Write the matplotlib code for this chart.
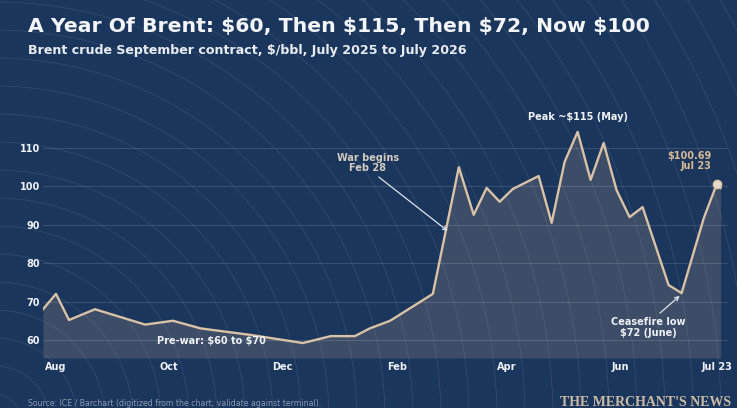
import numpy as np
import pandas as pd
import matplotlib
matplotlib.use('Agg')
import matplotlib.pyplot as plt
import matplotlib.dates as mdates

plt.rcParams['text.parse_math'] = False

# Brent September contract, weekly-ish turning points
dates = ['2025-07-25', '2025-08-01', '2025-08-08', '2025-08-22', '2025-09-18',
         '2025-10-03', '2025-10-18', '2025-11-14', '2025-12-12', '2025-12-27',
         '2026-01-09', '2026-01-17', '2026-01-28', '2026-02-20', '2026-03-06',
         '2026-03-14', '2026-03-21', '2026-03-28', '2026-04-04', '2026-04-18',
         '2026-04-25', '2026-05-02', '2026-05-09', '2026-05-16', '2026-05-23',
         '2026-05-30', '2026-06-06', '2026-06-13', '2026-06-27', '2026-07-04',
         '2026-07-16', '2026-07-23', '2026-07-25']
prices = [68, 72, 65.2, 68, 64,
          65, 63, 61.3, 59.2, 61,
          61, 63, 65, 72, 105,
          92.6, 99.6, 96, 99.3, 102.7,
          90.5, 106.4, 114.2, 101.7, 111.3,
          99, 92, 94.6, 74.3, 72.2,
          91.8, 100.69, 99.6]
last_date = '2026-07-23'
last_price = 100.69

tick_dates = ['2025-08-01', '2025-10-01', '2025-12-01', '2026-02-01',
              '2026-04-01', '2026-06-01', '2026-07-23']
tick_labels = ['Aug', 'Oct', 'Dec', 'Feb', 'Apr', 'Jun', 'Jul 23']
y_ticks = [60, 70, 80, 90, 100, 110]

NAVY = '#1b365d'
LINE = '#d9c2a6'
TXT = '#eef1f5'

df = pd.DataFrame({'date': pd.to_datetime(dates), 'price': prices})
x = mdates.date2num(df.date)

fig = plt.figure(figsize=(7.37, 4.08), dpi=100, facecolor=NAVY)

# decorative concentric arcs behind everything
bg = fig.add_axes([0, 0, 1, 1], zorder=0)
bg.set_xlim(0, 737)
bg.set_ylim(408, 0)
bg.axis('off')
t = np.linspace(0, 2 * np.pi, 800)
cx, cy = -5, 420
for r in np.arange(26, 950, 28):
    bg.plot(cx + r * np.cos(t), cy + r * np.sin(t), color='white', lw=0.5, alpha=0.11)

ax = fig.add_axes([43 / 737, 50 / 408, 685 / 737, 248.4 / 408], zorder=1)
ax.patch.set_alpha(0)
ax.fill_between(x, df.price, 55.3, color='#c9ab95', alpha=0.2, lw=0)
ax.plot(x, df.price, color=LINE, lw=1.7, zorder=3)
ax.plot(mdates.date2num(pd.Timestamp(last_date)), last_price, 'o', ms=6,
        mfc='#e6dccd', mec=LINE, mew=1, zorder=4)

ax.set_xlim(x[0], mdates.date2num(pd.Timestamp('2026-07-29')))
ax.set_ylim(55.3, 120)
ax.set_yticks(y_ticks)
ax.set_xticks(mdates.date2num(pd.to_datetime(tick_dates)))
ax.set_xticklabels(tick_labels)
ax.tick_params(length=0, labelsize=7, labelcolor=TXT)
ax.tick_params(axis='x', pad=3)
ax.tick_params(axis='y', pad=2)
for lab in ax.get_xticklabels() + ax.get_yticklabels():
    lab.set_fontweight('bold')
ax.grid(axis='y', color='white', alpha=0.13, lw=0.8)
for s in ax.spines.values():
    s.set_visible(False)

def d(s):
    return mdates.date2num(pd.Timestamp(s))

ax.annotate('War begins\nFeb 28', xy=(d('2026-02-28'), 88.4), xytext=(d('2026-01-16'), 106.1),
            ha='center', va='center', fontsize=7, fontweight='bold', color='#d3cbc0',
            linespacing=1.1,
            arrowprops=dict(arrowstyle='->', color='#dde3ea', lw=0.9, shrinkA=1, shrinkB=0,
                            relpos=(0.6, 0)))
ax.text(d('2026-05-09'), 118.1, 'Peak ~$115 (May)', ha='center', va='center',
        fontsize=7, fontweight='bold', color=TXT)
ax.text(d('2026-07-20'), 106.6, '$100.69\nJul 23', ha='right', va='center',
        fontsize=7, fontweight='bold', color='#d6b995', linespacing=1.1)
ax.annotate('Ceasefire low\n$72 (June)', xy=(d('2026-07-03'), 71.5), xytext=(d('2026-06-16'), 63.3),
            ha='center', va='center', fontsize=7, fontweight='bold', color=TXT,
            linespacing=1.1,
            arrowprops=dict(arrowstyle='->', color='#dde3ea', lw=0.9, shrinkA=1, shrinkB=0,
                            relpos=(0.6, 1)))
ax.text(d('2025-10-24'), 59.6, 'Pre-war: $60 to $70', ha='center', va='center',
        fontsize=7, fontweight='bold', color=TXT)

fig.text(28 / 737, 1 - 32 / 408, 'A Year Of Brent: $60, Then $115, Then $72, Now $100',
         fontsize=14.7, fontweight='bold', color='#f3f5f8', va='baseline')
fig.text(28 / 737, 1 - 54 / 408, 'Brent crude September contract, $/bbl, July 2025 to July 2026',
         fontsize=9.1, fontweight='bold', color='#e8ecf1', va='baseline')
fig.text(28 / 737, 1 - 403 / 408,
         'Source: ICE / Barchart (digitized from the chart; validate against terminal).',
         fontsize=5.6, color='#8b9bb2', va='center')
fig.text(731 / 737, 1 - 402 / 408, "THE MERCHANT'S NEWS", fontsize=10,
         family='Liberation Serif', fontweight='bold', color='#cbbba6',
         ha='right', va='center')

fig.savefig('out.png', dpi=100, facecolor=NAVY)
